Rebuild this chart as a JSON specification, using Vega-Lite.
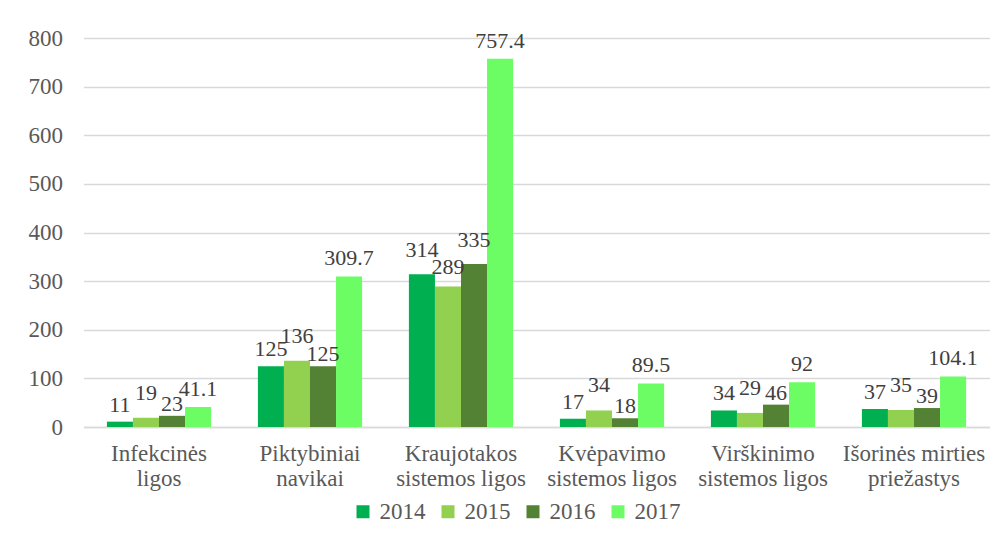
{
  "$schema": "https://vega.github.io/schema/vega-lite/v6.json",
  "autosize": {"type": "none"},
  "width": 906,
  "height": 389,
  "padding": {"left": 83.5, "top": 38, "right": 15.5, "bottom": 115},
  "background": "white",
  "config": {
    "view": {"stroke": null},
    "font": "Liberation Serif",
    "axis": {"labelFont": "Liberation Serif", "labelFontSize": 23, "labelColor": "#595959"},
    "legend": {"labelFont": "Liberation Serif", "labelFontSize": 23, "labelColor": "#595959"},
    "text": {"font": "Liberation Serif", "fontSize": 22, "color": "#404040", "baseline": "alphabetic"}
  },
  "data": {
    "values": [
      {"cat": "Infekcinės|ligos", "year": "2014", "v": 11},
      {"cat": "Infekcinės|ligos", "year": "2015", "v": 19},
      {"cat": "Infekcinės|ligos", "year": "2016", "v": 23},
      {"cat": "Infekcinės|ligos", "year": "2017", "v": 41.1},
      {"cat": "Piktybiniai|navikai", "year": "2014", "v": 125},
      {"cat": "Piktybiniai|navikai", "year": "2015", "v": 136},
      {"cat": "Piktybiniai|navikai", "year": "2016", "v": 125},
      {"cat": "Piktybiniai|navikai", "year": "2017", "v": 309.7},
      {"cat": "Kraujotakos|sistemos ligos", "year": "2014", "v": 314},
      {"cat": "Kraujotakos|sistemos ligos", "year": "2015", "v": 289},
      {"cat": "Kraujotakos|sistemos ligos", "year": "2016", "v": 335},
      {"cat": "Kraujotakos|sistemos ligos", "year": "2017", "v": 757.4},
      {"cat": "Kvėpavimo|sistemos ligos", "year": "2014", "v": 17},
      {"cat": "Kvėpavimo|sistemos ligos", "year": "2015", "v": 34},
      {"cat": "Kvėpavimo|sistemos ligos", "year": "2016", "v": 18},
      {"cat": "Kvėpavimo|sistemos ligos", "year": "2017", "v": 89.5},
      {"cat": "Virškinimo|sistemos ligos", "year": "2014", "v": 34},
      {"cat": "Virškinimo|sistemos ligos", "year": "2015", "v": 29},
      {"cat": "Virškinimo|sistemos ligos", "year": "2016", "v": 46},
      {"cat": "Virškinimo|sistemos ligos", "year": "2017", "v": 92},
      {"cat": "Išorinės mirties|priežastys", "year": "2014", "v": 37},
      {"cat": "Išorinės mirties|priežastys", "year": "2015", "v": 35},
      {"cat": "Išorinės mirties|priežastys", "year": "2016", "v": 39},
      {"cat": "Išorinės mirties|priežastys", "year": "2017", "v": 104.1}
    ]
  },
  "encoding": {
    "x": {
      "field": "cat", "type": "nominal", "sort": null, "title": null,
      "scale": {"paddingInner": 0.31, "paddingOuter": 0.155},
      "axis": {"labelAngle": 0, "labelExpr": "split(datum.label, '|')", "labelLineHeight": 25, "labelPadding": 15, "labelBaseline": "top", "ticks": false, "domainColor": "#D9D9D9", "domainWidth": 1.3, "labelLimit": 300}
    },
    "xOffset": {"field": "year", "type": "nominal"},
    "y": {
      "field": "v", "type": "quantitative", "title": null,
      "scale": {"domain": [0, 800], "nice": false},
      "axis": {"values": [0, 100, 200, 300, 400, 500, 600, 700, 800], "grid": true, "gridColor": "#D9D9D9", "gridWidth": 1.3, "domain": false, "ticks": false, "labelPadding": 21}
    },
    "text": {"field": "v", "type": "quantitative"}
  },
  "layer": [
    {
      "mark": {"type": "bar"},
      "encoding": {
        "text": null,
        "color": {
          "field": "year", "type": "nominal", "title": null,
          "scale": {"domain": ["2014", "2015", "2016", "2017"], "range": ["#00B050", "#92D050", "#548235", "#6CFC64"]},
          "legend": {"orient": "none", "direction": "horizontal", "legendX": 268, "legendY": 462, "symbolType": "square", "symbolSize": 169, "symbolStrokeWidth": 0, "columnPadding": 11, "labelOffset": 5}
        }
      }
    },
    {
      "transform": [{"filter": "datum.year == '2014' && indexof(datum.cat, 'Kraujotakos') < 0"}],
      "mark": {"type": "text", "dy": -10}
    },
    {
      "transform": [{"filter": "datum.year == '2015' && indexof(datum.cat, 'Kraujotakos') < 0"}],
      "mark": {"type": "text", "dy": -18}
    },
    {
      "transform": [{"filter": "datum.year == '2016' && indexof(datum.cat, 'Kraujotakos') < 0"}],
      "mark": {"type": "text", "dy": -5}
    },
    {
      "transform": [{"filter": "datum.year == '2017'"}],
      "mark": {"type": "text", "dy": -11}
    },
    {
      "transform": [{"filter": "(datum.year == '2014' || datum.year == '2016') && indexof(datum.cat, 'Kraujotakos') >= 0"}],
      "mark": {"type": "text", "dy": -17}
    },
    {
      "transform": [{"filter": "datum.year == '2015' && indexof(datum.cat, 'Kraujotakos') >= 0"}],
      "mark": {"type": "text", "dy": -12}
    }
  ]
}
